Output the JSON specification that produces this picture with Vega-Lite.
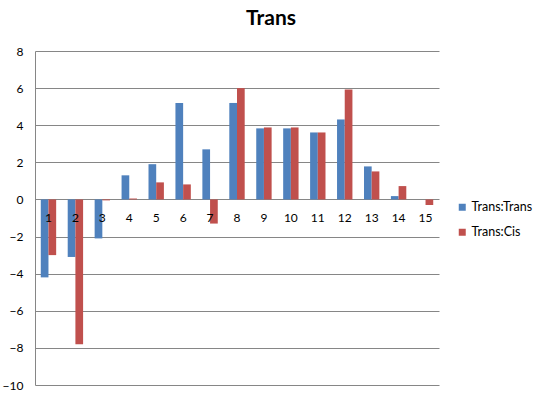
{
  "$schema": "https://vega.github.io/schema/vega-lite/v6.json",
  "autosize": "none",
  "width": 404,
  "height": 334,
  "padding": {"left": 35, "top": 51, "right": 103, "bottom": 15},
  "background": "white",
  "config": {"view": {"stroke": null}, "font": "Lato, sans-serif"},
  "title": {"text": "Trans", "fontSize": 21, "fontWeight": "bold", "font": "Lato, sans-serif", "anchor": "middle", "frame": "group", "dx": 34, "offset": 16, "color": "#000000"},
  "data": {"values": [
    {"cat": 1, "series": "Trans:Trans", "value": -4.2},
    {"cat": 1, "series": "Trans:Cis", "value": -3.0},
    {"cat": 2, "series": "Trans:Trans", "value": -3.1},
    {"cat": 2, "series": "Trans:Cis", "value": -7.8},
    {"cat": 3, "series": "Trans:Trans", "value": -2.1},
    {"cat": 3, "series": "Trans:Cis", "value": -0.05},
    {"cat": 4, "series": "Trans:Trans", "value": 1.3},
    {"cat": 4, "series": "Trans:Cis", "value": 0.05},
    {"cat": 5, "series": "Trans:Trans", "value": 1.9},
    {"cat": 5, "series": "Trans:Cis", "value": 0.92},
    {"cat": 6, "series": "Trans:Trans", "value": 5.2},
    {"cat": 6, "series": "Trans:Cis", "value": 0.81},
    {"cat": 7, "series": "Trans:Trans", "value": 2.7},
    {"cat": 7, "series": "Trans:Cis", "value": -1.3},
    {"cat": 8, "series": "Trans:Trans", "value": 5.2},
    {"cat": 8, "series": "Trans:Cis", "value": 6.0},
    {"cat": 9, "series": "Trans:Trans", "value": 3.83},
    {"cat": 9, "series": "Trans:Cis", "value": 3.88},
    {"cat": 10, "series": "Trans:Trans", "value": 3.83},
    {"cat": 10, "series": "Trans:Cis", "value": 3.88},
    {"cat": 11, "series": "Trans:Trans", "value": 3.61},
    {"cat": 11, "series": "Trans:Cis", "value": 3.61},
    {"cat": 12, "series": "Trans:Trans", "value": 4.31},
    {"cat": 12, "series": "Trans:Cis", "value": 5.93},
    {"cat": 13, "series": "Trans:Trans", "value": 1.78},
    {"cat": 13, "series": "Trans:Cis", "value": 1.51},
    {"cat": 14, "series": "Trans:Trans", "value": 0.18},
    {"cat": 14, "series": "Trans:Cis", "value": 0.72},
    {"cat": 15, "series": "Trans:Trans", "value": 0},
    {"cat": 15, "series": "Trans:Cis", "value": -0.3}
  ]},
  "encoding": {
    "x": {"field": "cat", "type": "ordinal", "axis": null,
          "scale": {"paddingInner": 0.4286, "paddingOuter": 0.2143}}
  },
  "resolve": {"axis": {"y": "independent"}},
  "layer": [
    {
      "mark": {"type": "bar"},
      "encoding": {
        "xOffset": {"field": "series", "type": "nominal", "sort": ["Trans:Trans", "Trans:Cis"]},
        "y": {"field": "value", "type": "quantitative",
              "scale": {"domain": [-10, 8], "nice": false, "zero": false},
              "axis": {"title": null, "values": [-10, -8, -6, -4, -2, 0, 2, 4, 6, 8], "tickCount": 10,
                       "labelOverlap": false, "labelFlush": false, "labelBound": false,
                       "grid": true, "gridColor": "#868686", "gridOpacity": 1,
                       "domainColor": "#868686", "ticks": false, "labelPadding": 12,
                       "labelFontSize": 12, "labelColor": "#000000", "labelFont": "Lato, sans-serif"}},
        "color": {"field": "series", "type": "nominal", "sort": ["Trans:Trans", "Trans:Cis"],
                  "scale": {"domain": ["Trans:Trans", "Trans:Cis"], "range": ["#4F81BD", "#C0504D"]},
                  "legend": {"title": null, "orient": "none", "legendX": 421, "legendY": 150,
                             "symbolType": "square", "symbolSize": 49, "symbolStrokeWidth": 0,
                             "labelFontSize": 12.5, "labelColor": "#000000", "labelFont": "Lato, sans-serif",
                             "rowPadding": 12, "padding": 0, "labelOffset": 3}}
      }
    },
    {
      "transform": [{"filter": "datum.series === 'Trans:Trans'"}],
      "mark": {"type": "text", "baseline": "middle", "dy": 19, "fontSize": 12, "color": "#000000", "font": "Lato, sans-serif"},
      "encoding": {
        "y": {"datum": 0, "type": "quantitative", "axis": null},
        "text": {"field": "cat", "type": "ordinal"}
      }
    }
  ]
}
